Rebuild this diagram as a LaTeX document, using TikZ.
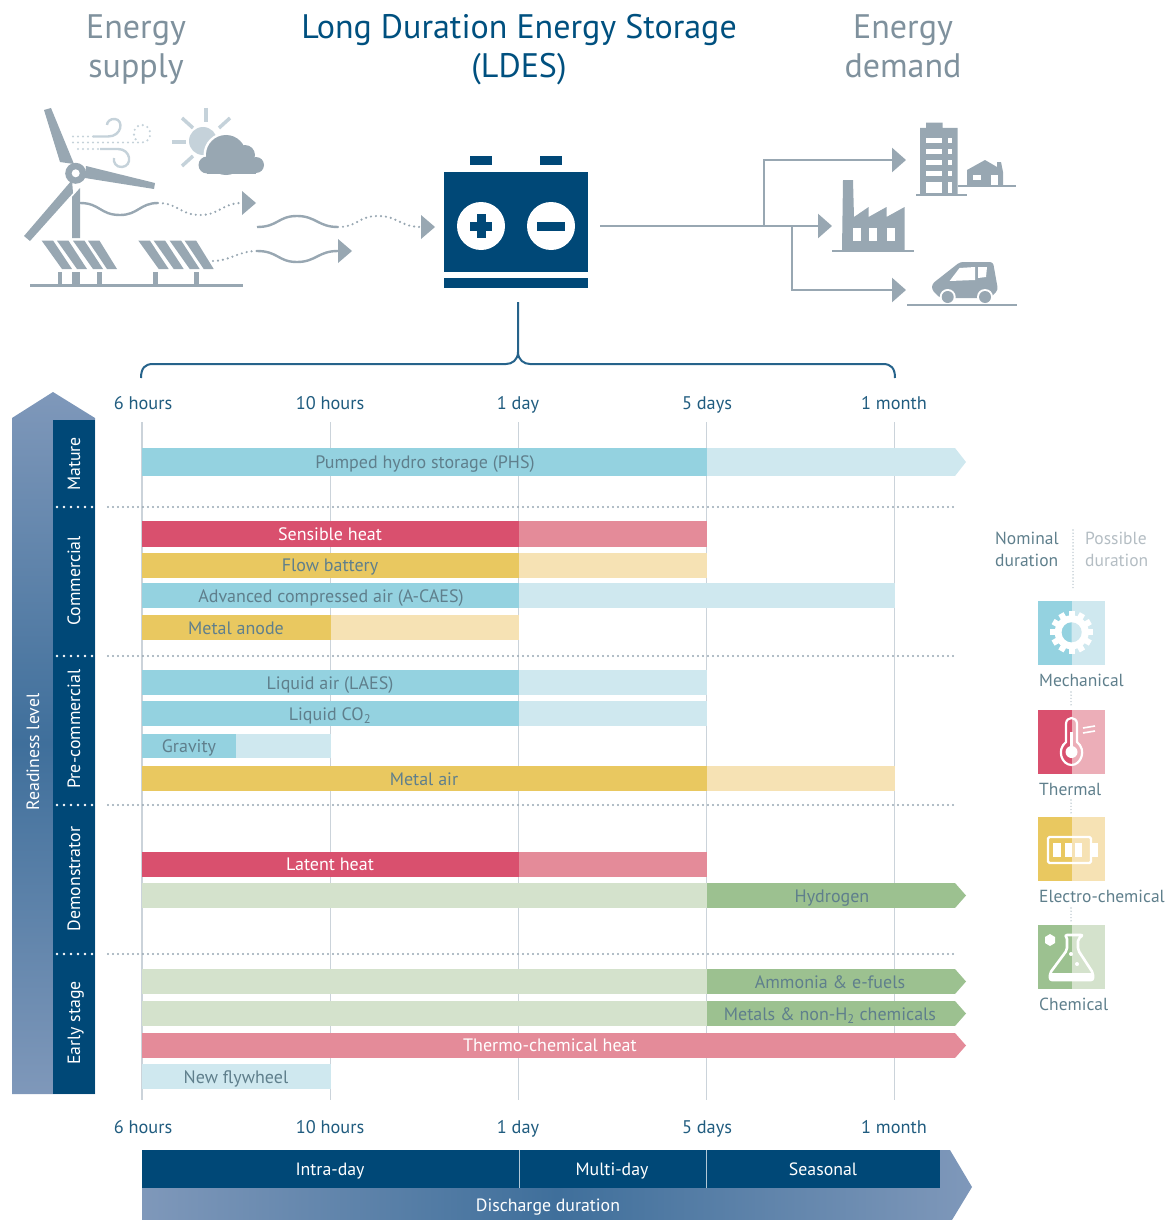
\documentclass[tikz,border=0pt]{standalone}
\usepackage{fontspec}
\setmainfont{PT Sans}
\usetikzlibrary{arrows.meta, positioning}

\definecolor{navy}{HTML}{004877}
\definecolor{ink}{HTML}{00507F}
\definecolor{steel}{HTML}{98A7B2}
\definecolor{pale}{HTML}{C5D2DA}
\definecolor{gridc}{HTML}{CBD3DA}
\definecolor{barink}{HTML}{5F7F8C}
\definecolor{titlec}{HTML}{7F919D}
\definecolor{mecA}{HTML}{94D2E0}
\definecolor{mecB}{HTML}{CFE8EF}
\definecolor{theA}{HTML}{D9506E}
\definecolor{theB}{HTML}{E48B99}
\definecolor{eleA}{HTML}{E9C860}
\definecolor{eleB}{HTML}{F6E2B4}
\definecolor{cheA}{HTML}{9CC190}
\definecolor{cheB}{HTML}{D4E2CC}
\definecolor{shadeA}{HTML}{7F98BA}
\definecolor{shadeB}{HTML}{3F6F9B}

\tikzset{
  bigtitle/.style={font=\fontsize{34}{39}\selectfont, align=center, text=#1, anchor=base, inner sep=0pt},
  ticklabel/.style={font=\fontsize{18.3}{20}\selectfont, text=ink!75!gray, text height=14pt, text depth=2pt, inner sep=0pt},
  barlabel/.style={font=\fontsize{18}{20}\selectfont, text=#1, text height=14pt, text depth=2pt, inner sep=0pt},
  collabel/.style={font=\fontsize{17.8}{20}\selectfont, text=white, text height=14pt, text depth=2pt, inner sep=0pt},
  keylabel/.style={font=\fontsize{17.5}{22}\selectfont, text=#1, align=left, inner sep=0pt, anchor=base west},
  feed/.style={steel, line width=2.6pt, -{Triangle[length=14pt,width=24pt]}},
  wave/.style={steel, line width=2.4pt},
  dotwave/.style={steel, line width=2.4pt, line cap=round, dash pattern=on 0pt off 5pt},
  dotrow/.style={steel, line width=2.2pt, line cap=round, dash pattern=on 0pt off 5pt},
  tiny dots/.style={pale!90!gray, line width=1.6pt, line cap=round, dash pattern=on 0pt off 3.2pt},
}

\begin{document}
\begin{tikzpicture}[x=1pt, y=-1pt]
\useasboundingbox (0,0) rectangle (1172,1220);

% Titles
\node[bigtitle=titlec] (supply) at (136,78) {Energy\\supply};
\node[bigtitle=ink] (ldes) at (519,78) {Long Duration Energy Storage\\(LDES)};
\node[bigtitle=titlec] (demand) at (903,78) {Energy\\demand};

% Turbine
\fill[steel] (44,110) -- (51,108) -- (74,164) -- (60,162) -- cycle;
\fill[steel] (86,166) -- (155,183) -- (154,189) -- (85,178) -- cycle;
\fill[steel] (72,180) -- (73,193) -- (30,241) -- (24,236) -- cycle;
\fill[steel] (72,197) -- (80,188) -- (80,238) -- (72,238) -- cycle;
\fill[steel] (75.7,173.3) circle [radius=10.5];
\fill[white] (75.7,173.3) circle [radius=4];

% Wind
\draw[pale, line width=2.4pt] (93,136.5) -- (108,136.5) .. controls (122,136.5) and (124,120) .. (115,119) .. controls (110,118.5) and (107,122) .. (107,125);
\draw[dotwave, pale] (73,136.5) -- (93,136.5);
\draw[dotwave, pale] (73,142.5) -- (142,142.5) .. controls (153,142.5) and (153,125) .. (142,125) .. controls (134,125) and (131,135) .. (137,141);
\draw[dotwave, pale] (78,149) -- (100,149);
\draw[pale, line width=2.4pt] (100,149) -- (118,149) .. controls (131,149) and (133,166) .. (122,167) .. controls (116,167.5) and (113,162) .. (114,158);

% Sun and cloud
\fill[pale] (203,141) circle [radius=14];
\foreach \ax/\ay/\bx/\by in {206/108/206/122, 172/142/186/142, 182/118/193/128, 230/118/219/128, 193/156/182/166} {
  \draw[pale, line width=3.5pt] (\ax,\ay) -- (\bx,\by);
}
\fill[white] (226,155) circle [radius=22.5];
\fill[white] (207,165) circle [radius=10.5];
\fill[steel] (226,155) circle [radius=20];
\fill[steel] (245,155) circle [radius=10];
\fill[steel] (256,165) circle [radius=8];
\fill[steel] (207,165) circle [radius=8.5];
\fill[steel] (207,160) rectangle (256,173.5);

% Solar panels
\foreach \dx in {0,96.7} {
  \begin{scope}[xshift=\dx]
  \foreach \a/\b in {41.7/62, 57/77, 73/93, 88/107} {
    \fill[steel] (\a,240.7) -- (\a+11.5,240.7) -- (\b+10,269) -- (\b,269) -- cycle;
  }
  \end{scope}
}
\foreach \a/\b in {58/62, 72/80, 97/102, 153/158, 194/199} {
  \fill[steel] (\a,272) rectangle (\b,285);
}
\draw[steel, line width=2.6pt] (30,285.7) -- (243,285.7);

% Supply waves
\coordinate (w1a) at (80,203);
\coordinate (w1b) at (158,203);
\coordinate (w1c) at (242,203);
\coordinate (w2a) at (257,227);
\coordinate (w2b) at (338,227);
\coordinate (w2c) at (421,227);
\coordinate (w3a) at (213,261);
\coordinate (w3b) at (257,251);
\coordinate (w3c) at (338,251);
\draw[wave] (w1a) .. controls (100,203) and (100,215) .. (120,215) .. controls (138,215) and (140,203) .. (w1b);
\draw[dotwave] (w1b) .. controls (178,203) and (180,215) .. (200,215) .. controls (220,215) and (222,203) .. (w1c);
\draw[wave] (w2a) .. controls (278,227) and (278,216) .. (297,216) .. controls (316,216) and (318,227) .. (w2b);
\draw[dotwave] (w2b) .. controls (358,227) and (358,216) .. (378,216) .. controls (398,216) and (400,227) .. (w2c);
\draw[dotwave] (w3a) .. controls (230,261) and (238,251) .. (w3b);
\draw[wave] (w3b) .. controls (278,251) and (278,262) .. (297,262) .. controls (316,262) and (318,251) .. (w3c);
\foreach \x/\y in {242/203, 421/227, 338/251} {
  \fill[steel] (\x,\y-12) -- (\x+14,\y) -- (\x,\y+12) -- cycle;
}

% Battery
\node[fill=navy, minimum width=144pt, minimum height=100pt, inner sep=0pt] (battery) at (516,222) {};
\node[fill=navy, minimum width=144pt, minimum height=10pt, inner sep=0pt] (batbase) at (516,283) {};
\foreach \x in {481,551} {
  \fill[navy] (\x-11,156) rectangle (\x+11,165);
  \fill[white] (\x,226) circle [radius=24];
}
\fill[navy] (470,221.5) rectangle (492,230.5);
\fill[navy] (476.5,214) rectangle (485.5,238);
\fill[navy] (537,221.5) rectangle (565,230.5);

% Demand feeds
\coordinate (out) at (600,226);
\coordinate (joinA) at (764,226);
\coordinate (joinB) at (792,226);
\coordinate (toHome) at (906,160);
\coordinate (toPlant) at (832,226);
\coordinate (toCar) at (906,290);
\draw[feed] (out) -- (toPlant);
\draw[feed] (joinA) |- (toHome);
\draw[feed] (joinB) |- (toCar);

% Building and house
\fill[steel] (920,128) -- (926,128) -- (926,122.7) -- (942.5,122.7) -- (942.5,128) -- (957.5,128) -- (957.5,195) -- (920,195) -- cycle;
\foreach \y in {138,149,160,171} {
  \fill[white] (926,\y) rectangle (942,\y+5);
  \fill[white] (948,\y) rectangle (952,\y+5);
}
\fill[white] (926,182) rectangle (942,193);
\fill[white] (948,182) rectangle (952,193);
\draw[steel, line width=2.4pt] (916,195) -- (967,195);
\fill[steel] (967,186) -- (967,170) -- (985,160) -- (997,167) -- (997,162) -- (1001,162) -- (1003,172) -- (1003,186) -- cycle;
\fill[white] (973,175) rectangle (981,180);
\fill[white] (991,175) rectangle (998,186);
\draw[steel, line width=2.4pt] (957.5,186) -- (1016,186);

% Factory
\fill[steel] (843,180) -- (853,180) -- (854,217) -- (868.6,207) -- (868.6,217) -- (886.5,207) -- (886.5,217) -- (904.6,207) -- (904.6,250) -- (842,250) -- cycle;
\foreach \x in {853,869,886.5} {
  \fill[white] (\x,228) rectangle (\x+8,241);
}
\draw[steel, line width=2.4pt] (832,251) -- (914,251);

% Car
\fill[steel, rounded corners=3pt] (932,290) -- (932,284) -- (960,262) -- (993,262) -- (998,290) -- (990,298) -- (940,298) -- cycle;
\fill[white] (949.6,281) -- (959.5,268) -- (975,267) -- (975,280) -- cycle;
\fill[white] (978,267) -- (987,267) -- (986,277) -- (978,278) -- cycle;
\foreach \x in {947.7,985} {
  \fill[white] (\x,297) circle [radius=8];
  \fill[steel] (\x,297) circle [radius=6];
}
\draw[steel, line width=2.4pt] (907,305) -- (1017,305);

% Brace
\coordinate (braceL) at (141,378);
\coordinate (braceR) at (895,378);
\coordinate (braceM) at (518,352);
\coordinate (braceTop) at (518,302);
\draw[navy!85!white, line width=2pt] (braceL) .. controls (141,368) and (145,364) .. (153,364) -- (506,364) .. controls (512,364) and (518,360) .. (braceM) -- (braceTop);
\draw[navy!85!white, line width=2pt] (braceM) .. controls (518,360) and (524,364) .. (530,364) -- (883,364) .. controls (891,364) and (895,368) .. (braceR);

% Readiness arrow
\path[shade, top color=shadeA, bottom color=shadeA, middle color=shadeB] (12,418) -- (53,392) -- (95,418) -- (95,1094) -- (12,1094) -- cycle;
\fill[navy] (53,420) rectangle (95,1094);
\node[collabel, rotate=90] (ready) at (33,752) {Readiness level};
\foreach \t/\y in {Mature/464, Commercial/581, Pre-commercial/729, Demonstrator/879, Early stage/1023} {
  \node[collabel, rotate=90] (lvl-\y) at (74,\y) {\t};
}

% Grid
\foreach \x in {142,330.5,518.5,706.5,894.5} {
  \draw[gridc, line width=1.4pt] (\x,422) -- (\x,1100);
}
\foreach \x/\t in {143/6 hours, 330/10 hours, 518/1 day, 707/5 days, 894/1 month} {
  \node[ticklabel] (top-\x) at (\x,403) {\t};
  \node[ticklabel] (bot-\x) at (\x,1127) {\t};
}

% Bars
\foreach \ya/\yb/\xa/\xb/\xc/\ca/\cb in {
  448/476/142/707/955/mecA/mecB,
  521/547/142/519/707/theA/theB,
  553/578/142/519/707/eleA/eleB,
  583/608/142/519/895/mecA/mecB,
  615/640/142/331/519/eleA/eleB,
  670/695/142/519/707/mecA/mecB,
  701/726/142/519/707/mecA/mecB,
  734/758/142/236/331/mecA/mecB,
  766/791/142/707/895/eleA/eleB,
  852/877/142/519/707/theA/theB,
  883/908/142/707/955/cheB/cheA,
  969/994/142/707/955/cheB/cheA,
  1001/1026/142/707/955/cheB/cheA,
  1033/1058/142/519/955/theB/theB,
  1064/1089/142/236/331/mecB/mecB} {
  \fill[\ca] (\xa,\ya) rectangle (\xb,\yb);
  \fill[\cb] (\xb,\ya) rectangle (\xc,\yb);
  \ifnum\xc=955
    \fill[\cb] (955,\ya) -- (966,{(\ya+\yb)/2}) -- (955,\yb) -- cycle;
  \fi
}
\foreach \x/\y/\t/\c in {
  425/462/{Pumped hydro storage (PHS)}/barink,
  330/534/{Sensible heat}/white,
  330/565/{Flow battery}/barink,
  331/596/{Advanced compressed air (A-CAES)}/barink,
  236/628/{Metal anode}/barink,
  330/683/{Liquid air (LAES)}/barink,
  330/714/{Liquid CO\textsubscript{2}}/barink,
  189/746/{Gravity}/barink,
  424/779/{Metal air}/barink,
  330/864/{Latent heat}/white,
  832/896/{Hydrogen}/barink,
  830/982/{Ammonia \& e-fuels}/barink,
  830/1014/{Metals \& non-H\textsubscript{2} chemicals}/barink,
  550/1045/{Thermo-chemical heat}/white,
  236/1077/{New flywheel}/barink} {
  \node[barlabel=\c] (bar-\y) at (\x,\y) {\t};
}

% Dotted rows
\foreach \y in {507,656,805,954} {
  \draw[dotrow] (108,\y) -- (955,\y);
  \draw[white, line width=2.6pt, line cap=round, dash pattern=on 0pt off 7pt] (57,\y) -- (95,\y);
}

% Duration band
\path[shade, left color=shadeA, right color=shadeA, middle color=shadeB] (142,1150) -- (950,1150) -- (972,1187) -- (952,1220) -- (142,1220) -- cycle;
\fill[navy] (142,1150) rectangle (940,1188);
\foreach \x in {519,706} {
  \draw[white!70!navy, line width=1pt] (\x,1150) -- (\x,1188);
}
\foreach \x/\y/\t in {330/1169/Intra-day, 612/1169/Multi-day, 823/1169/Seasonal, 548/1205/Discharge duration} {
  \node[collabel] (band-\x) at (\x,\y) {\t};
}

% Key
\node[keylabel=barink] (nominal) at (995,566) {Nominal\\duration};
\node[keylabel=pale!75!gray] (possible) at (1085,566) {Possible\\duration};
\draw[tiny dots] (1073,530) -- (1073,590);
\foreach \y/\ca/\cb/\t in {601/mecA/mecB/Mechanical, 710/theA/theB!70!white/Thermal, 817/eleA/eleB/Electro-chemical, 925/cheA/cheB/Chemical} {
  \fill[\ca] (1038,\y) rectangle (1072,\y+64);
  \fill[\cb] (1072,\y) rectangle (1105,\y+64);
  \node[keylabel=barink] (key-\y) at (1039,\y+85) {\t};
}
\foreach \a/\b in {692/706, 800/815, 908/923} {
  \draw[tiny dots] (1071,\a) -- (1071,\b);
}

% Gear
\foreach \a in {0,30,...,330} {
  \fill[white, shift={(1071.7,632.3)}, rotate=\a] (16,-3) rectangle (21.5,3);
}
\fill[white] (1071.7,632.3) circle [radius=17];
\fill[mecB] (1071.7,632.3) circle [radius=10];
\fill[mecA] (1071.7,622.3) .. controls (1066.2,622.3) and (1061.7,626.8) .. (1061.7,632.3) .. controls (1061.7,637.8) and (1066.2,642.3) .. (1071.7,642.3) -- cycle;

% Thermometer
\draw[white, line width=2.2pt, line join=round] (1066,742) -- (1066,724) .. controls (1066,716) and (1077,716) .. (1077,724) -- (1077,742) .. controls (1087,750) and (1081,765) .. (1071.5,765) .. controls (1062,765) and (1056,750) .. (1066,742) -- cycle;
\fill[white] (1071.5,752) circle [radius=6];
\draw[white, line width=2.2pt] (1071.5,732) -- (1071.5,748);
\draw[white, line width=1.6pt] (1083,728) -- (1095,726);
\draw[white, line width=1.6pt] (1083,733) -- (1095,731);

% Battery glyph
\draw[white, line width=2.2pt, rounded corners=1.5pt] (1048,837) rectangle (1091,863);
\fill[white] (1091,843) rectangle (1098,857);
\foreach \x in {1053,1064.5,1074.5} {
  \fill[white] (\x,843) rectangle (\x+7.5,857);
}

% Flask
\draw[white, line width=2.6pt, line join=round, rounded corners=2pt] (1065,935) -- (1083,935) -- (1078,939) -- (1078,950) -- (1093,973) -- (1093,980) -- (1050,980) -- (1050,973) -- (1067,950) -- (1067,937) -- cycle;
\fill[white] (1051,973) rectangle (1092,980);
\fill[white] (1050,934) -- (1055,937) -- (1055,943) -- (1050,946) -- (1045,943) -- (1045,937) -- cycle;
\fill[white] (1071,954) circle [radius=2];
\fill[white] (1077,964) circle [radius=2];
\end{tikzpicture}
\end{document}
